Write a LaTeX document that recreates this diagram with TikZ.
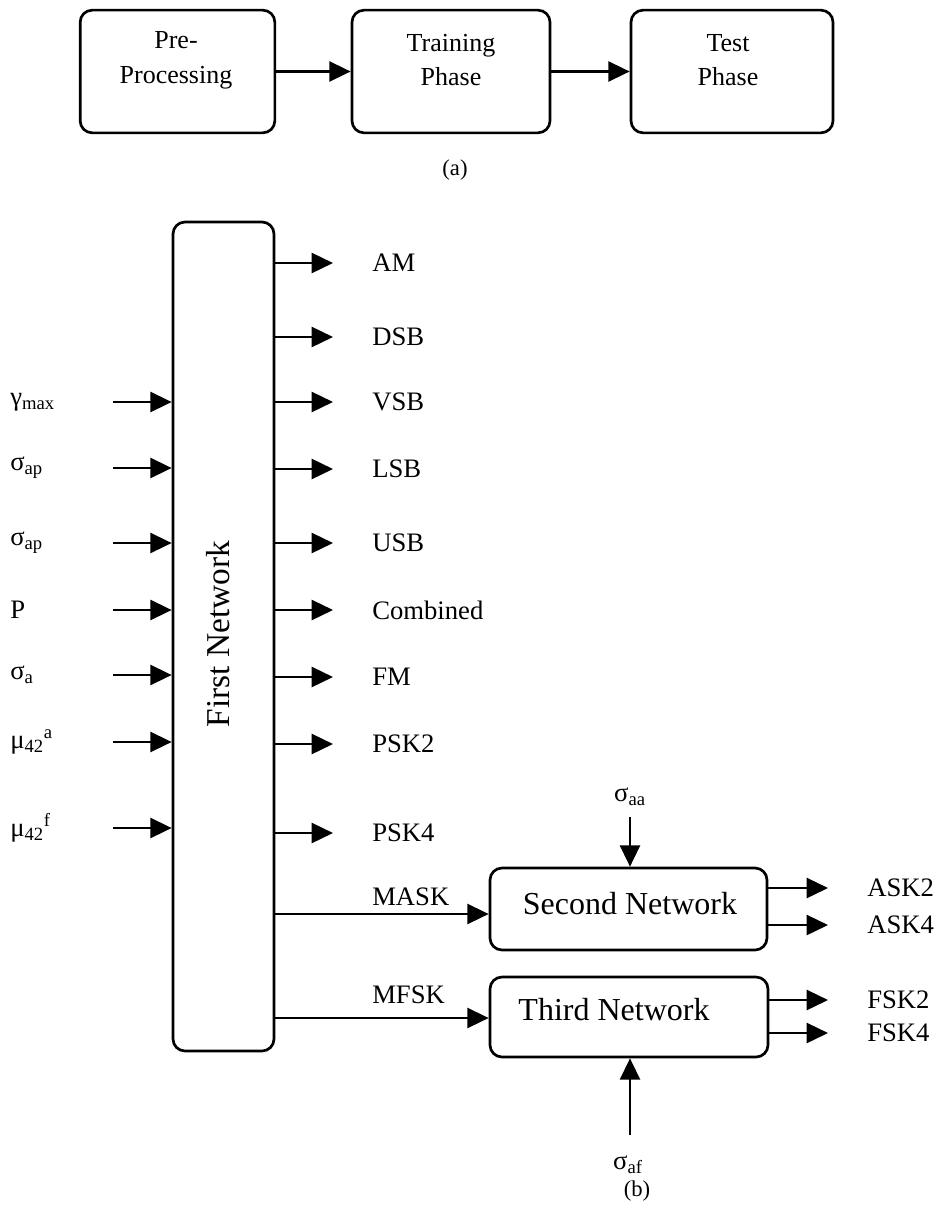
\documentclass[tikz,border=0pt]{standalone}
\usepackage{fontspec}
\setmainfont{Liberation Serif}
\usetikzlibrary{arrows.meta}

\tikzset{
  blk/.style={draw, line width=2pt, rounded corners=9pt},
  arr/.style={line width=1.9pt, -{Triangle[length=16pt,width=15pt]}},
  lbl/.style={font=\fontsize{20}{24}\selectfont, inner sep=0pt},
  captxt/.style={font=\fontsize{17}{20}\selectfont, inner sep=0pt},
  phasetxt/.style={font=\fontsize{19.5}{26}\selectfont, align=center, inner sep=0pt},
  nettxt/.style={font=\fontsize{24}{28}\selectfont, inner sep=0pt},
}

\begin{document}
\begin{tikzpicture}[x=0.75pt, y=-0.75pt]
\useasboundingbox (0,0) rectangle (940,1213);

% ---------- (a) processing stages ----------
\node[blk, minimum width=146pt, minimum height=92pt] (pre)   at (177.5,71.5) {};
\node[blk, minimum width=148.5pt, minimum height=92pt] (train) at (451,71.5) {};
\node[blk, minimum width=151.5pt, minimum height=92pt] (test)  at (732,71.5) {};
\node[phasetxt] (pretxt)   at (176,60) {Pre-\\Processing};
\node[phasetxt] (traintxt) at (451,60) {Training\\Phase};
\node[phasetxt] (testtxt)  at (728,60) {Test\\Phase};
\draw[arr] (pre.east) -- (train.west);
\draw[arr] (train.east) -- (test.west);
\node[captxt] (capa) at (455,170) {(a)};

% ---------- (b) hierarchical classifier ----------
\node[blk, minimum width=75.75pt, minimum height=621.75pt] (first) at (223.5,636.5) {};
\node[font=\fontsize{25}{30}\selectfont, rotate=90, inner sep=0pt] (firsttxt) at (218,634) {First Network};

% inputs of the first network
\foreach \name/\y/\txt in {
    gmax/402/{γ\textsubscript{max}},
    sap/468/{σ\textsubscript{ap}},
    sapb/543/{σ\textsubscript{ap}},
    pp/610/{P},
    sa/675/{σ\textsubscript{a}},
    mua/742/{μ\textsubscript{42}\textsuperscript{a}},
    muf/828/{μ\textsubscript{42}\textsuperscript{f}}} {
  \node[lbl, anchor=west] (in-\name) at (10,\y) {\txt};
  \coordinate (src-\name) at (113,\y);
  \draw[arr] (src-\name) -- (first.west |- src-\name);
}

% outputs of the first network
\foreach \name/\y/\txt in {
    am/263/AM, dsb/337/DSB, vsb/402/VSB, lsb/469/LSB, usb/543/USB,
    comb/610/Combined, fm/677/FM, psk2/744/PSK2, psk4/833/PSK4} {
  \node[lbl, anchor=west] (out-\name) at (372,\y) {\txt};
  \coordinate (dst-\name) at (333,\y);
  \draw[arr] (first.east |- dst-\name) -- (dst-\name);
}

% second and third networks
\node[blk, minimum width=207.75pt, minimum height=61.5pt] (second) at (628.5,909) {};
\node[nettxt] (secondtxt) at (630,904) {Second Network};
\node[blk, minimum width=208.5pt, minimum height=60pt] (third) at (629,1017) {};
\node[nettxt] (thirdtxt) at (614,1010) {Third Network};

\coordinate (mask) at (first.east |- 0,914);
\coordinate (mfsk) at (first.east |- 0,1018);
\draw[arr] (mask) -- (second.west |- mask);
\draw[arr] (mfsk) -- (third.west |- mfsk);
\node[lbl, anchor=base west] (masktxt) at (372,905) {MASK};
\node[lbl, anchor=base west] (mfsktxt) at (372,1003) {MFSK};

% side inputs
\node[lbl] (saa) at (630,797) {σ\textsubscript{aa}};
\coordinate (saa-src) at (630,817);
\draw[arr] (saa-src) -- (second.north -| saa-src);
\node[lbl] (saf) at (628,1165) {σ\textsubscript{af}};
\coordinate (saf-src) at (630,1135);
\draw[arr] (saf-src) -- (third.south -| saf-src);
\node[captxt] (capb) at (637,1191) {(b)};

% outputs of the second and third networks
\foreach \net/\name/\y/\txt in {
    second/ask2/888/ASK2, second/ask4/925/ASK4,
    third/fsk2/1000/FSK2, third/fsk4/1033/FSK4} {
  \node[lbl, anchor=west] (out-\name) at (867,\y) {\txt};
  \coordinate (dst-\name) at (828,\y);
  \draw[arr] (\net.east |- dst-\name) -- (dst-\name);
}
\end{tikzpicture}
\end{document}
